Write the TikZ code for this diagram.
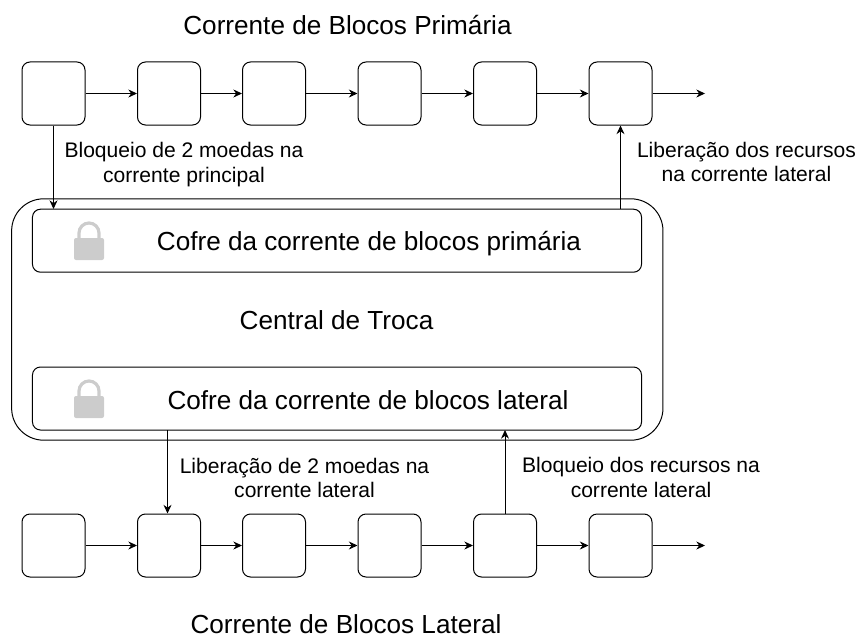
\documentclass[tikz,border=0pt]{standalone}
\usepackage{fontspec}
\setmainfont{Liberation Sans}
\usetikzlibrary{arrows.meta}
\begin{document}
\begin{tikzpicture}[x=0.75pt,y=-0.75pt,
 blk/.style={draw,rounded corners=6pt,minimum width=47.25pt,minimum height=47.25pt,inner sep=0pt,line width=0.75pt},
 vault/.style={draw,rounded corners=6pt,minimum width=456.8pt,minimum height=47.25pt,inner sep=0pt,line width=0.75pt},
 central/.style={draw,rounded corners=24pt,minimum width=488.5pt,minimum height=181pt,inner sep=0pt,line width=0.75pt},
 conn/.style={draw,line width=0.75pt,-{Stealth[length=6.5pt,width=6pt]}},
 lbl/.style={align=center,font=\fontsize{15.8pt}{18.4pt}\selectfont,inner sep=0pt,anchor=base},
 ttl/.style={font=\fontsize{19.6pt}{22pt}\selectfont,inner sep=0pt,anchor=base},
 lockbody/.style={fill=black!20,draw=none,rounded corners=1.5pt},
 lockbar/.style={draw=black!20,line width=2.4pt}]
\useasboundingbox (0,0) rectangle (856,635);
\foreach \n/\x in {1/53.5,2/169,3/274,4/389.5,5/505,6/620.5}{
 \node[blk] (a\n) at (\x,93.5) {};
 \node[blk] (b\n) at (\x,545.5) {};
}
\coordinate (aend) at (705,93.5);
\coordinate (bend) at (705,545.5);
\foreach \s/\t in {1/2,2/3,3/4,4/5,5/6}{
 \draw[conn] (a\s) -- (a\t);
 \draw[conn] (b\s) -- (b\t);
}
\draw[conn] (a6) -- (aend);
\draw[conn] (b6) -- (bend);
\node[central] (c) at (337.3,319.5) {};
\node[vault] (v1) at (337,240.7) {};
\node[vault] (v2) at (337,398.5) {};
\node[ttl] (t1) at (347.5,35) {Corrente de Blocos Primária};
\node[ttl] (t2) at (346,633.5) {Corrente de Blocos Lateral};
\node[ttl] (t3) at (336.5,329.3) {Central de Troca};
\node[ttl] (t4) at (369,250.7) {Cofre da corrente de blocos primária};
\node[ttl] (t5) at (368,409) {Cofre da corrente de blocos lateral};
\node[lbl] (l1) at (184,182.3) {Bloqueio de 2 moedas na\\corrente principal};
\node[lbl] (l2) at (746.5,181.7) {Liberação dos recursos\\na corrente lateral};
\node[lbl] (l3) at (304.5,497.7) {Liberação de 2 moedas na\\corrente lateral};
\node[lbl] (l4) at (641,497.3) {Bloqueio dos recursos na\\corrente lateral};
\coordinate (p1) at (53.5,209);
\coordinate (p2) at (620.5,209);
\coordinate (p3) at (167.5,430);
\coordinate (p4) at (505,430);
\draw[conn] (a1) -- (p1);
\draw[conn] (p2) -- (a6);
\draw[conn] (p3) -- (p3 |- b2.north);
\draw[conn] (b5) -- (p4);
\foreach \cy in {238,396}{
 \fill[lockbody] (74,\cy) rectangle (104,\cy+22);
 \draw[lockbar] (79,\cy+1) -- (79,\cy-5) arc[start angle=180,end angle=0,radius=7.5pt] -- (99,\cy+1);
}
\end{tikzpicture}
\end{document}
